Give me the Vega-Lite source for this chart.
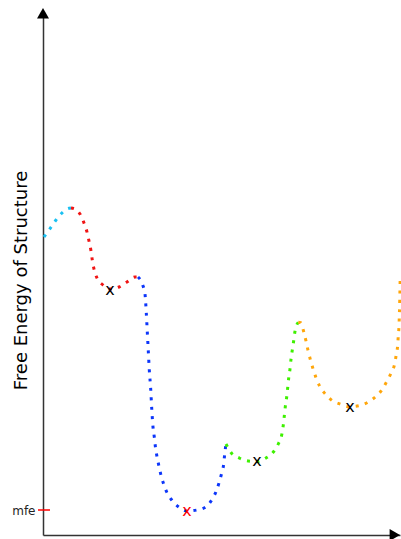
{
  "$schema": "https://vega.github.io/schema/vega-lite/v6.json",
  "width": 357,
  "height": 523,
  "autosize": {"type": "none"},
  "padding": {"left": 43, "top": 12, "right": 1, "bottom": 4},
  "background": "white",
  "config": {"view": {"stroke": null}, "font": "DejaVu Sans"},
  "datasets": {
    "curve": [
      {"seg": "a", "x": 1, "y": 298}, {"seg": "a", "x": 7.7, "y": 307.3}, {"seg": "a", "x": 13, "y": 315}, {"seg": "a", "x": 19, "y": 322}, {"seg": "a", "x": 24, "y": 326}, {"seg": "a", "x": 28, "y": 327},
      {"seg": "b", "x": 28, "y": 327}, {"seg": "b", "x": 32, "y": 326}, {"seg": "b", "x": 37, "y": 321}, {"seg": "b", "x": 41, "y": 312}, {"seg": "b", "x": 44, "y": 303}, {"seg": "b", "x": 46, "y": 294}, {"seg": "b", "x": 48, "y": 284}, {"seg": "b", "x": 49.3, "y": 275}, {"seg": "b", "x": 51, "y": 266}, {"seg": "b", "x": 54, "y": 257}, {"seg": "b", "x": 60, "y": 250}, {"seg": "b", "x": 67, "y": 246}, {"seg": "b", "x": 76, "y": 248}, {"seg": "b", "x": 84, "y": 253}, {"seg": "b", "x": 92, "y": 258}, {"seg": "b", "x": 95, "y": 258},
      {"seg": "c", "x": 95, "y": 258}, {"seg": "c", "x": 99.7, "y": 250}, {"seg": "c", "x": 102, "y": 241}, {"seg": "c", "x": 103.3, "y": 222}, {"seg": "c", "x": 104.3, "y": 203}, {"seg": "c", "x": 105.3, "y": 184}, {"seg": "c", "x": 106.3, "y": 165}, {"seg": "c", "x": 107.7, "y": 146}, {"seg": "c", "x": 108.7, "y": 127}, {"seg": "c", "x": 110, "y": 108}, {"seg": "c", "x": 111.3, "y": 98}, {"seg": "c", "x": 112.3, "y": 89}, {"seg": "c", "x": 113.7, "y": 80}, {"seg": "c", "x": 115.7, "y": 70}, {"seg": "c", "x": 117.7, "y": 61}, {"seg": "c", "x": 120.3, "y": 52}, {"seg": "c", "x": 123.7, "y": 43}, {"seg": "c", "x": 128.7, "y": 35}, {"seg": "c", "x": 135.7, "y": 28}, {"seg": "c", "x": 144, "y": 24}, {"seg": "c", "x": 154, "y": 25}, {"seg": "c", "x": 162.7, "y": 28}, {"seg": "c", "x": 169.3, "y": 36}, {"seg": "c", "x": 173.3, "y": 44}, {"seg": "c", "x": 176.3, "y": 53}, {"seg": "c", "x": 178.7, "y": 62}, {"seg": "c", "x": 180.7, "y": 71}, {"seg": "c", "x": 181.7, "y": 81}, {"seg": "c", "x": 183, "y": 91},
      {"seg": "d", "x": 183, "y": 91}, {"seg": "d", "x": 188.3, "y": 82}, {"seg": "d", "x": 196.3, "y": 77}, {"seg": "d", "x": 205.3, "y": 74}, {"seg": "d", "x": 214, "y": 73.5}, {"seg": "d", "x": 223, "y": 77}, {"seg": "d", "x": 230.3, "y": 83}, {"seg": "d", "x": 235.3, "y": 91}, {"seg": "d", "x": 238.7, "y": 100}, {"seg": "d", "x": 240.3, "y": 110}, {"seg": "d", "x": 241.3, "y": 119}, {"seg": "d", "x": 242.3, "y": 128.3}, {"seg": "d", "x": 243.7, "y": 138}, {"seg": "d", "x": 244.7, "y": 147.3}, {"seg": "d", "x": 245.7, "y": 157}, {"seg": "d", "x": 247, "y": 166}, {"seg": "d", "x": 248, "y": 175.7}, {"seg": "d", "x": 249.3, "y": 185}, {"seg": "d", "x": 250.7, "y": 194.3}, {"seg": "d", "x": 252, "y": 203.7}, {"seg": "d", "x": 255.3, "y": 212.7},
      {"seg": "e", "x": 255.3, "y": 212.7}, {"seg": "e", "x": 257.7, "y": 212.3}, {"seg": "e", "x": 260.7, "y": 203.3}, {"seg": "e", "x": 263, "y": 194}, {"seg": "e", "x": 265, "y": 184.7}, {"seg": "e", "x": 267.3, "y": 175.7}, {"seg": "e", "x": 270, "y": 166.3}, {"seg": "e", "x": 273, "y": 157.3}, {"seg": "e", "x": 276.7, "y": 148.7}, {"seg": "e", "x": 282.3, "y": 141}, {"seg": "e", "x": 289.3, "y": 134.3}, {"seg": "e", "x": 298, "y": 130.7}, {"seg": "e", "x": 306.7, "y": 128.3}, {"seg": "e", "x": 316.3, "y": 129.3}, {"seg": "e", "x": 325.3, "y": 133}, {"seg": "e", "x": 333, "y": 138.7}, {"seg": "e", "x": 339.3, "y": 145.7}, {"seg": "e", "x": 344, "y": 154}, {"seg": "e", "x": 348.3, "y": 162.3}, {"seg": "e", "x": 351.7, "y": 171.3}, {"seg": "e", "x": 353.3, "y": 180.7}, {"seg": "e", "x": 354.7, "y": 190}, {"seg": "e", "x": 355.3, "y": 199.7}, {"seg": "e", "x": 356, "y": 209}, {"seg": "e", "x": 356.3, "y": 218.3}, {"seg": "e", "x": 356.6, "y": 228}, {"seg": "e", "x": 356.8, "y": 237.3}, {"seg": "e", "x": 357, "y": 247}, {"seg": "e", "x": 357.2, "y": 258}
    ],
    "marks": [
      {"x": 67, "y": 245, "label": "x", "kind": "local"},
      {"x": 144, "y": 24, "label": "x", "kind": "mfe"},
      {"x": 214, "y": 74, "label": "x", "kind": "local"},
      {"x": 307, "y": 128, "label": "x", "kind": "local"}
    ],
    "tick": [{"x": -5, "x2": 7, "y": 25}],
    "arrows": [
      {"x": 0, "y": 521.8, "shape": "triangle-up"},
      {"x": 351.8, "y": 0, "shape": "triangle-right"}
    ]
  },
  "layer": [
    {
      "data": {"name": "curve"},
      "mark": {"type": "line", "interpolate": "monotone", "strokeWidth": 3, "strokeDash": [3, 6.4], "strokeCap": "butt"},
      "encoding": {
        "x": {"field": "x", "type": "quantitative", "scale": {"domain": [0, 357], "nice": false, "zero": false},
              "axis": {"domain": true, "domainColor": "#333", "domainWidth": 1.5, "ticks": false, "labels": false, "grid": false, "title": null}},
        "y": {"field": "y", "type": "quantitative", "scale": {"domain": [0, 523], "nice": false, "zero": false},
              "axis": {"domain": true, "domainColor": "#333", "domainWidth": 1.5, "ticks": false, "grid": false, "values": [25], "labelExpr": "'mfe'", "labelFontSize": 12, "labelColor": "#222", "labelPadding": 8, "labelBaseline": "middle",
                       "title": "Free Energy of Structure", "titleFontSize": 18, "titleFontWeight": "normal", "titleColor": "#000", "titleAngle": -90, "titleAlign": "center", "titleBaseline": "alphabetic", "titleX": -17, "titleY": 268}},
        "color": {"field": "seg", "type": "nominal", "legend": null,
                  "scale": {"domain": ["a", "b", "c", "d", "e"], "range": ["#19c0f2", "#f01414", "#0c36fa", "#3ef000", "#ffa60a"]}},
        "detail": {"field": "seg"},
        "order": {"field": "x", "type": "quantitative"}
      }
    },
    {
      "data": {"name": "marks"},
      "mark": {"type": "text", "fontSize": 16, "baseline": "middle", "align": "center"},
      "encoding": {
        "x": {"field": "x", "type": "quantitative"},
        "y": {"field": "y", "type": "quantitative"},
        "text": {"field": "label"},
        "color": {"field": "kind", "type": "nominal", "legend": null, "scale": {"domain": ["local", "mfe"], "range": ["#000000", "#ff0000"]}}
      }
    },
    {
      "data": {"name": "tick"},
      "mark": {"type": "rule", "color": "#ff0000", "strokeWidth": 1.5},
      "encoding": {
        "x": {"field": "x", "type": "quantitative"},
        "x2": {"field": "x2"},
        "y": {"field": "y", "type": "quantitative"}
      }
    },
    {
      "data": {"name": "arrows"},
      "mark": {"type": "point", "filled": true, "color": "#000", "opacity": 1, "size": 144, "strokeWidth": 0},
      "encoding": {
        "x": {"field": "x", "type": "quantitative"},
        "y": {"field": "y", "type": "quantitative"},
        "shape": {"field": "shape", "type": "nominal", "scale": null}
      }
    }
  ],
  "resolve": {"scale": {"color": "independent"}}
}
